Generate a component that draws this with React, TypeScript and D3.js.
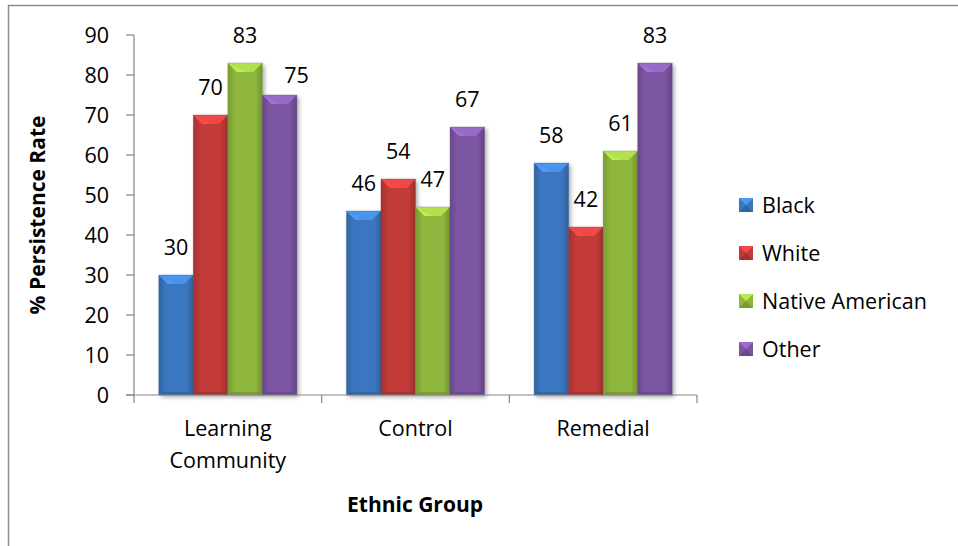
import React from "react";
import * as d3 from "d3";

const categories = ["Learning Community", "Control", "Remedial"];
const seriesNames = ["Black", "White", "Native American", "Other"];
const black = [30, 46, 58];
const white = [70, 54, 42];
const nativeAmerican = [83, 47, 61];
const other = [75, 67, 83];
const yTicks = [0, 10, 20, 30, 40, 50, 60, 70, 80, 90];

const seriesValues = [black, white, nativeAmerican, other];
const baseColors = ["#3b77c0", "#c23a39", "#8fb63d", "#7b56a2"];

const W = 958;
const H = 546;
const FONT = "'Open Sans', Lato, sans-serif";
const FS = 21.5;
const FSB = 21;

export default function App() {
  const x0 = d3.scaleBand<string>().domain(categories).range([134, 697]).paddingInner(0.264).paddingOuter(0.132);
  const x1 = d3.scaleBand<string>().domain(seriesNames).range([0, x0.bandwidth()]).padding(0);
  const y = d3.scaleLinear().domain([0, 90]).range([395, 35]);
  const bw = x1.bandwidth();

  const catTicks = d3.range(categories.length + 1).map((i) => 134 + (i * (697 - 134)) / categories.length);
  // label that the original chart nudged aside
  const nudged = (ci: number, si: number) => ci === 0 && si === 3;

  return (
    <svg width={W} height={H} style={{ position: "absolute", left: 0, top: 0, background: "#fff" }} fontFamily={FONT}>
      <defs>
        {baseColors.map((c, i) => {
          const col = d3.color(c)!;
          return (
            <linearGradient key={i} id={`g${i}`} x1="0" x2="1" y1="0" y2="0">
              <stop offset="0" stopColor={col.darker(0.5).toString()} />
              <stop offset="0.2" stopColor={c} />
              <stop offset="0.8" stopColor={c} />
              <stop offset="1" stopColor={col.darker(0.6).toString()} />
            </linearGradient>
          );
        })}
        <filter id="sh" x="-10%" y="-5%" width="130%" height="115%">
          <feGaussianBlur in="SourceAlpha" stdDeviation="2" />
          <feOffset dx="2" dy="2" result="b" />
          <feComponentTransfer><feFuncA type="linear" slope="0.35" /></feComponentTransfer>
          <feMerge><feMergeNode /><feMergeNode in="SourceGraphic" /></feMerge>
        </filter>
      </defs>
      {/* frame */}
      <rect x={8.5} y={5.5} width={W} height={H} fill="none" stroke="#8c8c8c" strokeWidth={1.5} />

      {/* bars */}
      {categories.map((cat, ci) => (
        <g key={cat}>
          {seriesNames.map((s, si) => {
            const v = seriesValues[si][ci];
            const bx = (x0(cat) ?? 0) + (x1(s) ?? 0);
            const by = y(v);
            const bh = y(0) - by;
            const col = d3.color(baseColors[si])!;
            const bev = Math.min(9, bw / 3);
            const light = col.brighter(0.6).toString();
            const dark = col.darker(0.7).toString();
            return (
              <g key={s}>
                <rect x={bx} y={by} width={bw} height={bh} fill={`url(#g${si})`} filter="url(#sh)" />
                <polygon points={`${bx},${by} ${bx + bw},${by} ${bx + bw - bev},${by + bev} ${bx + bev},${by + bev}`} fill={light} />
                <polygon points={`${bx},${by} ${bx + bev},${by + bev} ${bx + bw / 2},${by + bev} `} fill={col.brighter(0.9).toString()} opacity={0.5} />
                <polygon points={`${bx},${by + bh} ${bx + bw},${by + bh} ${bx + bw - 3},${by + bh - 3} ${bx + 3},${by + bh - 3}`} fill={dark} opacity={0.6} />
                <rect x={bx} y={by} width={bw} height={bh} fill="none" stroke={dark} strokeOpacity={0.35} strokeWidth={0.8} />
              </g>
            );
          })}
        </g>
      ))}

      {/* data labels */}
      {categories.map((cat, ci) =>
        seriesNames.map((s, si) => {
          const v = seriesValues[si][ci];
          const bx = (x0(cat) ?? 0) + (x1(s) ?? 0);
          const by = y(v);
          const n = nudged(ci, si);
          return (
            <text key={cat + s} x={bx + bw / 2 + (n ? 17 : 0)} y={by - (n ? 12 : 20)} textAnchor="middle" fontSize={FS} fill="#000">{v}</text>
          );
        })
      )}

      {/* y axis */}
      <line x1={134} x2={134} y1={35} y2={395} stroke="#868686" strokeWidth={1.2} />
      {yTicks.map((t) => (
        <g key={t}>
          <line x1={126} x2={134} y1={y(t)} y2={y(t)} stroke="#868686" strokeWidth={1.2} />
          <text x={109} y={y(t)} dy="0.35em" textAnchor="end" fontSize={FS} fill="#000">{t}</text>
        </g>
      ))}
      {/* x axis */}
      <line x1={126} x2={697} y1={395} y2={395} stroke="#868686" strokeWidth={1.2} />
      {catTicks.map((t, i) => (
        <line key={i} x1={t} x2={t} y1={395} y2={403} stroke="#868686" strokeWidth={1.2} />
      ))}
      {categories.map((cat) => {
        const cx = (x0(cat) ?? 0) + x0.bandwidth() / 2;
        const words = cat.split(" ");
        return (
          <text key={cat} x={cx} y={436} textAnchor="middle" fontSize={FS} fill="#000">
            {words.map((w, i) => (
              <tspan key={i} x={cx} dy={i === 0 ? 0 : 32}>{w}</tspan>
            ))}
          </text>
        );
      })}

      {/* axis titles */}
      <text x={415} y={512} textAnchor="middle" fontSize={FSB} fontWeight="bold" fill="#000">Ethnic Group</text>
      <text transform={`translate(45,215) rotate(-90)`} textAnchor="middle" fontSize={FSB} fontWeight="bold" fill="#000">% Persistence Rate</text>

      {/* legend */}
      {seriesNames.map((s, i) => {
        const cy = 205 + i * 48;
        const col = d3.color(baseColors[i])!;
        const sx = 739, sz = 14;
        return (
          <g key={s}>
            <rect x={sx} y={cy - sz / 2} width={sz} height={sz} fill={baseColors[i]} />
            <polygon points={`${sx},${cy - sz / 2} ${sx + sz},${cy - sz / 2} ${sx + sz / 2},${cy}`} fill={col.brighter(0.7).toString()} />
            <polygon points={`${sx},${cy + sz / 2} ${sx + sz},${cy + sz / 2} ${sx + sz / 2},${cy}`} fill={col.darker(0.5).toString()} />
            <text x={762} y={cy} dy="0.35em" fontSize={FS} fill="#000">{s}</text>
          </g>
        );
      })}
    </svg>
  );
}
